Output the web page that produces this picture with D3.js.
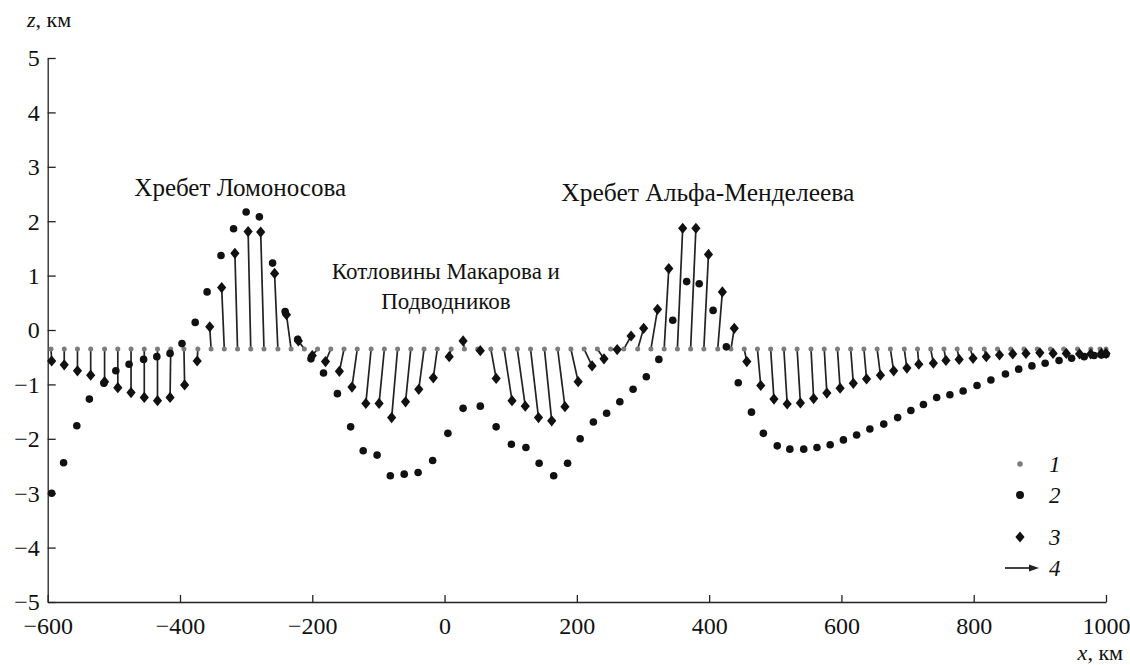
<!DOCTYPE html>
<html>
<head>
<meta charset="utf-8">
<script src="https://cdn.jsdelivr.net/npm/d3@7"></script>
<style>
    body { margin: 0; background: #fff; }
    .axis path, .axis line { stroke: #222; stroke-width: 1.3px; }
</style>
</head>
<body>
<div id="chart"></div>
<script>

// ---- data (km along profile, z in km) ----

// 1: initial points (all at the same depth)
const stationX = [-595, -575, -555, -535, -514, -494, -474, -454, -434, -414,
    -394, -373, -353, -333, -313, -293, -273, -252, -232, -212,
    -192, -172, -152, -132, -111, -91, -71, -51, -31, -11,
    10, 30, 50, 70, 90, 110, 130, 151, 171, 191,
    211, 231, 251, 271, 292, 312, 332, 352, 372, 392,
    413, 433, 453, 473, 493, 513, 533, 554, 574, 594,
    614, 634, 654, 674, 695, 715, 735, 755, 775, 795,
    816, 836, 856, 876, 896, 916, 936, 957, 977, 991, 1000];
const depth1 = -0.35;

// 2: circles
const x2 = [-594, -576, -556, -537, -515, -497, -477, -455, -435, -415,
    -397, -377, -359, -338, -319, -300, -280, -260, -241, -222,
    -202, -183, -162, -142, -123, -102, -82, -61, -40, -18,
    5, 28, 54, 78, 101, 123, 143, 165, 186, 205,
    225, 245, 265, 285, 305, 324, 345, 366, 385, 406,
    426, 444, 464, 482, 503, 522, 543, 563, 583, 603,
    623, 643, 664, 685, 705, 724, 744, 764, 784, 805,
    826, 848, 868, 888, 908, 929, 948, 967, 982, 993, 1000];
const z2 = [-3.00, -2.44, -1.76, -1.27, -0.98, -0.75, -0.63, -0.54, -0.49, -0.43,
    -0.25, 0.14, 0.70, 1.37, 1.86, 2.17, 2.08, 1.23, 0.34, -0.17,
    -0.53, -0.79, -1.17, -1.78, -2.22, -2.30, -2.68, -2.65, -2.62, -2.40,
    -1.90, -1.44, -1.40, -1.78, -2.10, -2.16, -2.45, -2.68, -2.45, -2.00,
    -1.69, -1.53, -1.32, -1.09, -0.86, -0.54, 0.18, 0.89, 0.85, 0.36,
    -0.31, -0.97, -1.51, -1.90, -2.13, -2.19, -2.19, -2.16, -2.11, -2.02,
    -1.93, -1.82, -1.73, -1.61, -1.48, -1.37, -1.24, -1.19, -1.12, -1.02,
    -0.92, -0.81, -0.72, -0.66, -0.61, -0.56, -0.52, -0.49, -0.47, -0.46, -0.45];

// 3: diamonds (ends of the arrows 4)
const x3 = [-594, -575, -555, -535, -514, -494, -474, -454, -434, -415,
    -393, -374, -355, -337, -317, -297, -278, -257, -239, -221,
    -200, -180, -159, -140, -119, -99, -80, -59, -39, -17,
    7, 28, 54, 78, 102, 122, 142, 162, 182, 202,
    223, 241, 261, 282, 301, 322, 339, 360, 380, 399,
    420, 438, 457, 478, 498, 518, 538, 558, 578, 598,
    618, 638, 659, 679, 699, 717, 739, 758, 778, 799,
    819, 839, 859, 879, 900, 920, 940, 960, 977, 993, 1000];
const z3 = [-0.57, -0.64, -0.75, -0.83, -0.95, -1.06, -1.15, -1.24, -1.30, -1.24,
    -1.01, -0.57, 0.06, 0.78, 1.41, 1.81, 1.80, 1.04, 0.28, -0.20,
    -0.47, -0.58, -0.76, -1.05, -1.35, -1.35, -1.61, -1.32, -1.09, -0.88,
    -0.49, -0.20, -0.38, -0.89, -1.30, -1.40, -1.61, -1.67, -1.41, -0.95,
    -0.66, -0.53, -0.36, -0.11, 0.03, 0.38, 1.13, 1.87, 1.87, 1.39,
    0.70, 0.03, -0.58, -1.02, -1.27, -1.36, -1.34, -1.26, -1.16, -1.07,
    -0.98, -0.90, -0.83, -0.75, -0.70, -0.63, -0.61, -0.56, -0.54, -0.52,
    -0.49, -0.46, -0.44, -0.43, -0.42, -0.43, -0.43, -0.44, -0.44, -0.43, -0.43];

const xTicks = [-600, -400, -200, 0, 200, 400, 600, 800, 1000];
const yTicks = [-5, -4, -3, -2, -1, 0, 1, 2, 3, 4, 5];

const notes = [
    {lines: ["Хребет Ломоносова"], x: -309, z: 2.46, size: 25},
    {lines: ["Котловины Макарова и", "Подводников"], x: 2, z: 0.93, size: 23},
    {lines: ["Хребет Альфа-Менделеева"], x: 398, z: 2.37, size: 25.5}
];
const legendLabels = ["1", "2", "3", "4"];

// ---- drawing ----

const W = 1130, H = 665;
const serif = '"Liberation Serif"';

const svg = d3.select("#chart").append("svg")
    .attr("width", W)
    .attr("height", H);

const x = d3.scaleLinear().domain([-600, 1000]).range([47.7, 1106]);
const y = d3.scaleLinear().domain([-5, 5]).range([602, 58]);

const diamond = "M0,-5.6L4.6,0L0,5.6L-4.6,0Z";

// axes, ticks point inwards
svg.append("g")
    .attr("class", "axis x-axis")
    .attr("transform", `translate(0,${y(-5)})`)
    .call(d3.axisBottom(x).tickValues(xTicks).tickFormat(d3.format("d"))
        .tickSizeInner(-7).tickSizeOuter(0).tickPadding(15))
    .call(g => g.selectAll("text")
        .attr("font-family", serif).attr("font-size", 24).attr("fill", "#111"));

svg.append("g")
    .attr("class", "axis y-axis")
    .attr("transform", `translate(${x(-600)},0)`)
    .call(d3.axisLeft(y).tickValues(yTicks).tickFormat(d3.format("d"))
        .tickSizeInner(-8).tickSizeOuter(0).tickPadding(8))
    .call(g => g.selectAll("text")
        .attr("font-family", serif).attr("font-size", 24).attr("fill", "#111").attr("dy", "0.33em"));

// axis titles
let zt = svg.append("text").attr("x", 27).attr("y", 27)
    .attr("font-family", serif).attr("font-size", 22).attr("fill", "#111");
zt.append("tspan").attr("font-style", "italic").text("z");
zt.append("tspan").text(", км");

let xt = svg.append("text").attr("x", 1123).attr("y", 660)
    .attr("text-anchor", "end")
    .attr("font-family", serif).attr("font-size", 22).attr("fill", "#111");
xt.append("tspan").attr("font-style", "italic").text("x");
xt.append("tspan").text(", км");

// arrows 4: from point 1 to point 3
svg.append("g").selectAll("line")
    .data(stationX)
    .join("line")
    .attr("x1", d => x(d))
    .attr("y1", y(depth1))
    .attr("x2", (d, i) => x(x3[i]))
    .attr("y2", (d, i) => y(z3[i]))
    .attr("stroke", "#222")
    .attr("stroke-width", 1.7);

// 1
svg.append("g").selectAll("circle")
    .data(stationX)
    .join("circle")
    .attr("cx", d => x(d))
    .attr("cy", y(depth1))
    .attr("r", 2.5)
    .attr("fill", "#7c7c7c");

// 2
svg.append("g").selectAll("circle")
    .data(z2)
    .join("circle")
    .attr("cx", (d, i) => x(x2[i]))
    .attr("cy", d => y(d))
    .attr("r", 3.8)
    .attr("fill", "#111");

// 3
svg.append("g").selectAll("path")
    .data(z3)
    .join("path")
    .attr("d", diamond)
    .attr("transform", (d, i) => `translate(${x(x3[i])},${y(d)})`)
    .attr("fill", "#111");

// labels of the structures
notes.forEach(n => {
    let t = svg.append("text")
        .attr("text-anchor", "middle")
        .attr("font-family", serif)
        .attr("font-size", n.size)
        .attr("fill", "#111");
    n.lines.forEach((l, k) => {
        t.append("tspan")
            .attr("x", x(n.x))
            .attr("y", y(n.z) + k * 30)
            .text(l);
    });
});

// legend
const lg = svg.append("g").attr("transform", "translate(1020,0)");
const rowY = [464, 495, 537, 568];

lg.append("circle").attr("cx", 0).attr("cy", rowY[0]).attr("r", 2.8).attr("fill", "#7c7c7c");
lg.append("circle").attr("cx", 0).attr("cy", rowY[1]).attr("r", 4).attr("fill", "#111");
lg.append("path").attr("d", diamond).attr("transform", `translate(0,${rowY[2]})`).attr("fill", "#111");
lg.append("line")
    .attr("x1", -15).attr("x2", 12)
    .attr("y1", rowY[3]).attr("y2", rowY[3])
    .attr("stroke", "#222").attr("stroke-width", 1.7);
lg.append("path")
    .attr("d", `M19,${rowY[3]}L9,${rowY[3] - 3.5}L9,${rowY[3] + 3.5}Z`)
    .attr("fill", "#222");

lg.selectAll(".lg-text")
    .data(legendLabels)
    .join("text")
    .attr("class", "lg-text")
    .attr("x", 29)
    .attr("y", (d, i) => rowY[i] + 7.5)
    .attr("font-family", serif)
    .attr("font-size", 23)
    .attr("font-style", "italic")
    .attr("fill", "#111")
    .text(d => d);

</script>
</body>
</html>
